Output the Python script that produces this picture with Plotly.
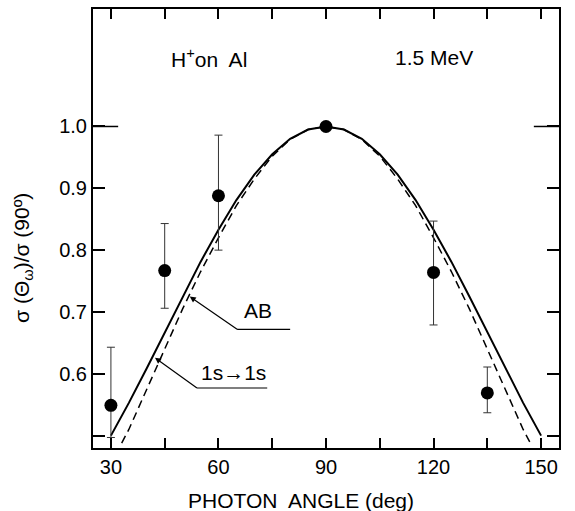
import plotly.graph_objects as go

# measured data points
angles = [30, 45, 60, 90, 120, 135]
ratio = [0.549, 0.767, 0.888, 1.0, 0.764, 0.569]
err_up = [0.094, 0.076, 0.098, 0.0, 0.083, 0.042]
err_down = [0.052, 0.061, 0.088, 0.0, 0.085, 0.032]

# AB theory curve (solid)
ab_angle = [30, 35, 40, 45, 50, 55, 60, 65, 70, 75, 80, 85, 90,
            95, 100, 105, 110, 115, 120, 125, 130, 135, 140, 145, 150]
ab_ratio = [0.500, 0.553, 0.609, 0.667, 0.725, 0.781, 0.833, 0.881, 0.922, 0.955, 0.980, 0.995, 1.000,
            0.995, 0.980, 0.955, 0.922, 0.881, 0.833, 0.781, 0.725, 0.667, 0.609, 0.553, 0.500]

# 1s->1s theory curve (dashed)
ss_angle = [33, 35, 40, 45, 50, 55, 60, 65, 70, 75, 80, 85, 90,
            95, 100, 105, 110, 115, 120, 125, 130, 135, 140, 145, 147]
ss_ratio = [0.488, 0.510, 0.575, 0.640, 0.705, 0.765, 0.820, 0.872, 0.915, 0.952, 0.979, 0.995, 1.000,
            0.995, 0.979, 0.952, 0.915, 0.872, 0.820, 0.765, 0.705, 0.640, 0.575, 0.510, 0.488]

x_ticks = [30, 60, 90, 120, 150]
x_labels = ["30", "60", "90", "120", "150"]
x_minor = [45, 75, 105, 135]
y_ticks = [0.6, 0.7, 0.8, 0.9, 1.0]
y_labels = ["0.6", "0.7", "0.8", "0.9", "1.0"]
y_minor = [0.5]

FONT = "Liberation Sans, Arial, sans-serif"

fig = go.Figure()
fig.add_trace(go.Scatter(x=ab_angle, y=ab_ratio, mode="lines",
                         line=dict(color="black", width=2), showlegend=False))
fig.add_trace(go.Scatter(x=ss_angle, y=ss_ratio, mode="lines",
                         line=dict(color="black", width=1.5, dash="8px,5px"), showlegend=False))
fig.add_trace(go.Scatter(x=angles, y=ratio, mode="markers",
                         marker=dict(color="black", size=13),
                         error_y=dict(type="data", symmetric=False, array=err_up, arrayminus=err_down,
                                      color="#333", thickness=1, width=4),
                         showlegend=False))

fig.update_layout(
    width=575, height=511,
    margin=dict(l=93, r=16, t=7, b=63),
    paper_bgcolor="white", plot_bgcolor="white",
    font=dict(family=FONT, size=20, color="black"),
    xaxis=dict(range=[25, 155], tickvals=x_ticks, ticktext=x_labels,
               ticks="inside", ticklen=10, tickwidth=1.5, tickcolor="black",
               minor=dict(tickvals=x_minor, ticks="inside", ticklen=10, tickwidth=1.5,
                          tickcolor="black", showgrid=False),
               showline=True, linecolor="black", linewidth=2, mirror="ticks",
               showgrid=False, zeroline=False, tickfont=dict(size=20)),
    yaxis=dict(range=[0.48, 1.19], tickvals=y_ticks, ticktext=y_labels,
               ticks="inside", ticklen=12, tickwidth=1.5, tickcolor="black",
               minor=dict(tickvals=y_minor, ticks="inside", ticklen=12, tickwidth=1.5,
                          tickcolor="black", showgrid=False),
               showline=True, linecolor="black", linewidth=2, mirror="ticks",
               showgrid=False, zeroline=False, tickfont=dict(size=20)),
    shapes=[
        dict(type="line", xref="x domain", yref="y", x0=0, x1=0.054, y0=1.0, y1=1.0,
             line=dict(color="black", width=1.5)),
        dict(type="line", xref="x domain", yref="y", x0=0.946, x1=1, y0=1.0, y1=1.0,
             line=dict(color="black", width=1.5)),
        dict(type="line", xref="x", yref="y", x0=65.2, x1=80.0, y0=0.672, y1=0.672,
             line=dict(color="black", width=1.2)),
        dict(type="line", xref="x", yref="y", x0=54.0, x1=73.6, y0=0.577, y1=0.577,
             line=dict(color="black", width=1.2)),
    ],
    annotations=[
        dict(x=57.4, y=1.111, xref="x", yref="y", text="H<sup>+</sup>on  Al", showarrow=False,
             font=dict(size=21)),
        dict(x=120, y=1.111, xref="x", yref="y", text="1.5 MeV", showarrow=False,
             font=dict(size=21)),
        dict(x=52.0, y=0.725, ax=65.2, ay=0.672, xref="x", yref="y", axref="x", ayref="y",
             text="AB", xanchor="left", yanchor="bottom", borderpad=6,
             showarrow=True, arrowhead=2, arrowsize=1, arrowwidth=1.2, arrowcolor="black",
             font=dict(size=21)),
        dict(x=42.3, y=0.626, ax=54.0, ay=0.577, xref="x", yref="y", axref="x", ayref="y",
             text="1s\u21921s", xanchor="left", yanchor="bottom", borderpad=3,
             showarrow=True, arrowhead=2, arrowsize=1, arrowwidth=1.2, arrowcolor="black",
             font=dict(size=21)),
        dict(x=0.446, y=0, xref="paper", yref="paper", yshift=-52, text="PHOTON  ANGLE (deg)",
             showarrow=False, font=dict(size=21), yanchor="middle"),
        dict(x=0, y=0.433, xref="paper", yref="paper", xshift=-70, textangle=-90,
             text="\u03c3 (\u0398<sub>\u03c9</sub>)/\u03c3 (90\u00ba)",
             showarrow=False, font=dict(size=21), xanchor="center", yanchor="middle"),
    ],
)

fig.write_html("out.html")
